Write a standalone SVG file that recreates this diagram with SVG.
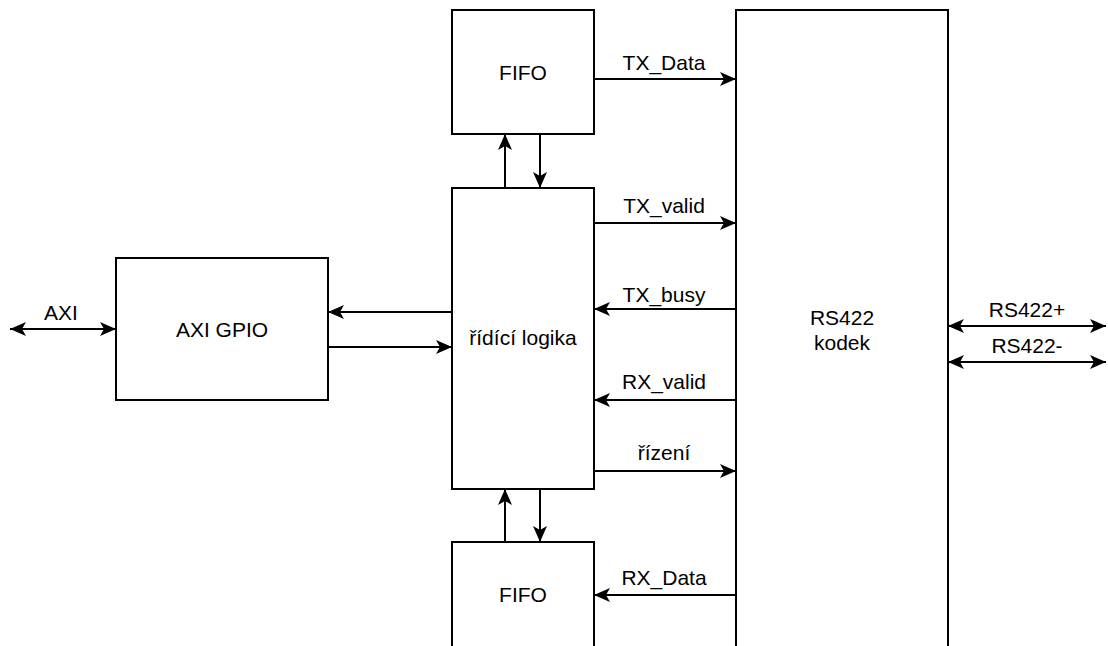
<svg xmlns="http://www.w3.org/2000/svg" width="1108" height="646" viewBox="0 0 1108 646">
<style>
.box{fill:#fff;stroke:#000;stroke-width:2}
.ln{fill:none;stroke:#000;stroke-width:2}
text{font-family:"Liberation Sans",Arial,sans-serif;font-size:21px;fill:#000;text-anchor:middle}
</style>
<defs>
<marker id="ah" viewBox="0 0 16 14" refX="16" refY="7" markerWidth="16" markerHeight="14" markerUnits="userSpaceOnUse" orient="auto-start-reverse">
<path d="M0,0 L16,7 L0,14 L4,7 Z" fill="#000"/>
</marker>
</defs>
<rect width="1108" height="646" fill="#fff"/>
<g id="axigpio"><rect class="box" x="116" y="258" width="212" height="142"/><text x="222" y="337">AXI GPIO</text></g>
<g id="fifo-top"><rect class="box" x="452" y="10" width="142" height="124"/><text x="523" y="80">FIFO</text></g>
<g id="logika"><rect class="box" x="452" y="188" width="142" height="301"/><text x="523" y="345">řídící logika</text></g>
<g id="fifo-bottom"><rect class="box" x="452" y="542" width="142" height="120"/><text x="523" y="602">FIFO</text></g>
<g id="rs422"><rect class="box" x="736" y="10" width="212" height="660"/><text x="842" y="325">RS422</text><text x="842" y="350">kodek</text></g>
<g id="connectors">
<line class="ln" x1="10" y1="329" x2="116" y2="329" marker-start="url(#ah)" marker-end="url(#ah)"/>
<text x="61" y="320">AXI</text>
<line class="ln" x1="452" y1="312" x2="328" y2="312" marker-end="url(#ah)"/>
<line class="ln" x1="328" y1="347" x2="452" y2="347" marker-end="url(#ah)"/>
<line class="ln" x1="505" y1="188" x2="505" y2="134" marker-end="url(#ah)"/>
<line class="ln" x1="540" y1="134" x2="540" y2="188" marker-end="url(#ah)"/>
<line class="ln" x1="505" y1="542" x2="505" y2="489" marker-end="url(#ah)"/>
<line class="ln" x1="540" y1="489" x2="540" y2="542" marker-end="url(#ah)"/>
<line class="ln" x1="594" y1="79" x2="736" y2="79" marker-end="url(#ah)"/>
<text x="664" y="70">TX_Data</text>
<line class="ln" x1="594" y1="223" x2="736" y2="223" marker-end="url(#ah)"/>
<text x="664" y="213">TX_valid</text>
<line class="ln" x1="736" y1="309" x2="594" y2="309" marker-end="url(#ah)"/>
<text x="664" y="302">TX_busy</text>
<line class="ln" x1="736" y1="400" x2="594" y2="400" marker-end="url(#ah)"/>
<text x="664" y="389">RX_valid</text>
<line class="ln" x1="594" y1="471" x2="736" y2="471" marker-end="url(#ah)"/>
<text x="664" y="460">řízení</text>
<line class="ln" x1="736" y1="595" x2="594" y2="595" marker-end="url(#ah)"/>
<text x="664" y="585">RX_Data</text>
<line class="ln" x1="948" y1="326" x2="1106" y2="326" marker-start="url(#ah)" marker-end="url(#ah)"/>
<text x="1027" y="317">RS422+</text>
<line class="ln" x1="948" y1="362" x2="1106" y2="362" marker-start="url(#ah)" marker-end="url(#ah)"/>
<text x="1027" y="353">RS422-</text>
</g>
</svg>
